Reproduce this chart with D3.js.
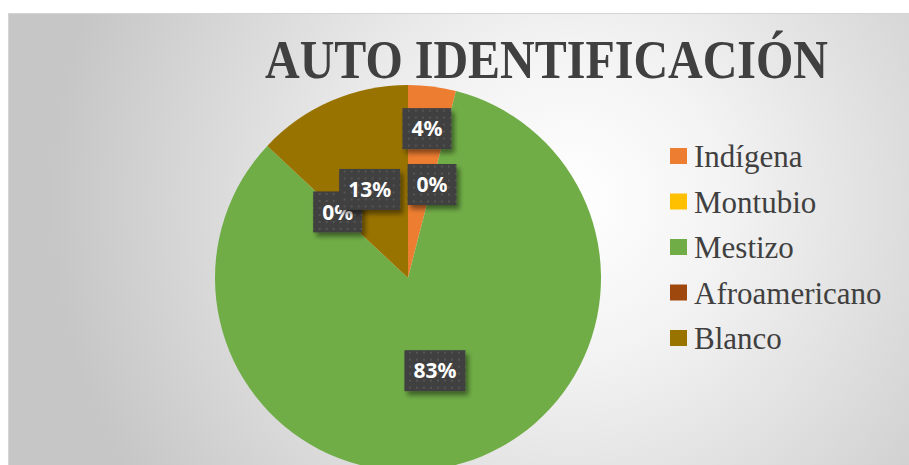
<!DOCTYPE html>
<html>
<head>
<meta charset="utf-8">
<script src="https://cdn.jsdelivr.net/npm/d3@7"></script>
<style>
  body { margin: 0; background: #fff; }
  svg { display: block; }
  .serif { font-family: "Times New Roman", Times, Tinos, "Liberation Serif", "DejaVu Serif", "Noto Serif", FreeSerif, serif; }
</style>
</head>
<body>
<svg width="909" height="465"></svg>
<script>
var categories = ["Indígena", "Montubio", "Mestizo", "Afroamericano", "Blanco"];
var values = [4, 0, 83, 0, 13];
var colors = ["#ED7D31", "#FFC000", "#70AD47", "#9E480E", "#997300"];
var title = "AUTO IDENTIFICACIÓN";

var svg = d3.select("svg");
var width = +svg.attr("width");
var height = +svg.attr("height");
var textColor = "#404040";

var defs = svg.append("defs");

// chart area background
var grad = defs.append("radialGradient")
    .attr("id", "bg")
    .attr("gradientUnits", "userSpaceOnUse")
    .attr("cx", 570).attr("cy", 200).attr("r", 520);
grad.append("stop").attr("offset", "0%").attr("stop-color", "#ffffff");
grad.append("stop").attr("offset", "30%").attr("stop-color", "#f3f3f3");
grad.append("stop").attr("offset", "100%").attr("stop-color", "#c6c6c6");

// dotted fill of the data labels
var pat = defs.append("pattern")
    .attr("id", "dots")
    .attr("patternUnits", "userSpaceOnUse")
    .attr("width", 7).attr("height", 7);
pat.append("rect").attr("width", 7).attr("height", 7).attr("fill", "#3f3f3f");
pat.append("rect").attr("x", 2).attr("y", 2).attr("width", 2).attr("height", 2).attr("fill", "#555555");

var shadow = defs.append("filter")
    .attr("id", "shadow")
    .attr("x", "-30%").attr("y", "-30%").attr("width", "160%").attr("height", "160%");
shadow.append("feDropShadow")
    .attr("dx", 3).attr("dy", 4).attr("stdDeviation", 2.5)
    .attr("flood-color", "#000").attr("flood-opacity", 0.45);

svg.append("rect")
    .attr("x", 8.5).attr("y", 13.5)
    .attr("width", width - 8).attr("height", height - 13)
    .attr("fill", "url(#bg)")
    .attr("stroke", "#d4d4d4");

// title
svg.append("text")
    .attr("class", "serif")
    .attr("x", 265).attr("y", 78)
    .attr("textLength", 563)
    .attr("lengthAdjust", "spacingAndGlyphs")
    .attr("font-weight", "bold")
    .attr("font-size", 54)
    .attr("fill", textColor)
    .text(title);

// pie
var cx = 408, cy = 278, radius = 193;
var pie = d3.pie().sort(null).value(function(d) { return d; });
var arcs = pie(values);
var arc = d3.arc().innerRadius(0).outerRadius(radius);

var g = svg.append("g").attr("transform", "translate(" + cx + "," + cy + ")");
g.selectAll(".slice")
    .data(arcs)
    .enter()
    .append("path")
    .attr("class", "slice")
    .attr("d", arc)
    .attr("fill", function(d, i) { return colors[i]; });

// data labels, at half radius; a label crowding the next one moves outward
function labelPos(d, k) {
    var a = (d.startAngle + d.endAngle) / 2;
    return [Math.sin(a) * radius * k, -Math.cos(a) * radius * k];
}
var positions = arcs.map(function(d) { return labelPos(d, 0.5); });
for (var i = 0; i < arcs.length - 1; i++) {
    var p = positions[i], q = positions[i + 1];
    if (Math.abs(p[0] - q[0]) < 50 && Math.abs(p[1] - q[1]) < 42 && values[i] > 0) {
        positions[i] = labelPos(arcs[i], 0.78);
    }
}

var labels = g.selectAll(".lbl")
    .data(arcs)
    .enter()
    .append("g")
    .attr("class", "lbl")
    .attr("transform", function(d, i) { return "translate(" + positions[i][0] + "," + positions[i][1] + ")"; });

var order = [3, 4, 1, 2, 0];
labels.sort(function(a, b) { return order.indexOf(a.index) - order.indexOf(b.index); });

labels.each(function(d) {
    var sel = d3.select(this);
    var box = sel.append("rect")
        .attr("fill", "url(#dots)")
        .attr("filter", "url(#shadow)");
    var t = sel.append("text")
        .attr("text-anchor", "middle")
        .attr("dy", "0.36em")
        .style("font-family", "'Noto Sans', 'Open Sans', sans-serif")
        .style("font-weight", "bold")
        .style("font-size", "21px")
        .style("fill", "#ffffff")
        .text(d.data + "%");
    var w = t.node().getComputedTextLength() + 18;
    box.attr("x", -w / 2).attr("y", -20.5).attr("width", w).attr("height", 41);
});

// legend
var legend = svg.append("g").attr("transform", "translate(670,0)");
var ly = d3.scaleLinear().domain([0, categories.length - 1]).range([167, 349]);
var items = legend.selectAll(".item")
    .data(categories)
    .enter()
    .append("g")
    .attr("class", "item")
    .attr("transform", function(d, i) { return "translate(0," + ly(i) + ")"; });
items.append("rect")
    .attr("x", 0).attr("y", -19)
    .attr("width", 17).attr("height", 16)
    .attr("fill", function(d, i) { return colors[i]; });
items.append("text")
    .attr("class", "serif")
    .attr("x", 24)
    .attr("font-size", 31)
    .attr("fill", textColor)
    .text(function(d) { return d; });
</script>
</body>
</html>
